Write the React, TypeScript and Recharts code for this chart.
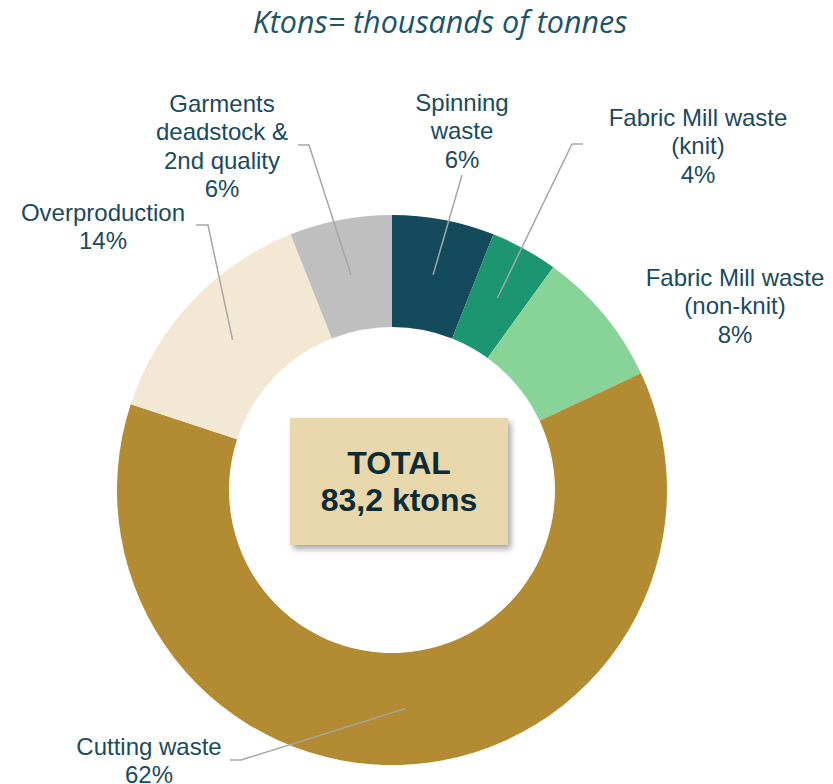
import React from 'react';
import { PieChart, Pie, Cell } from 'recharts';

// waste streams, clockwise from 12 o'clock
const categories = [
  ['Spinning', 'waste'],
  ['Fabric Mill waste', '(knit)'],
  ['Fabric Mill waste', '(non-knit)'],
  ['Cutting waste'],
  ['Overproduction'],
  ['Garments', 'deadstock &', '2nd quality'],
];
const ktons = [5.0, 3.3, 6.7, 51.6, 11.6, 5.0];
const colors = ['#134a5c', '#1b9670', '#88d398', '#b38b32', '#f3e8d3', '#bfbfbf'];

const data = categories.map((lines, i) => ({ name: lines.join(' '), lines, value: ktons[i] }));
const total = ktons.reduce((a, b) => a + b, 0);

const W = 833;
const H = 784;
const CX = 392;
const CY = 490;
const INNER = 163;
const OUTER = 275;
const LINE_H = 28.5;
const TEXT = '#1a4a5c';
const RADIAN = Math.PI / 180;

// label placement, relative to the pie centre: text centre x, first line y,
// and the leader line end (with an optional short horizontal stub)
const labelLayout = [
  { x: 70, y: -388, leader: [[70, -315]] },
  { x: 306, y: -373, leader: [[180, -346], [191, -346]] },
  { x: 343, y: -213, leader: null },
  { x: -243, y: 256, leader: [[-151, 270], [-162, 270]] },
  { x: -289, y: -278, leader: [[-184, -265], [-196, -265]] },
  { x: -170, y: -387, leader: [[-83, -345], [-94, -345]] },
];

function renderLabel(props: any) {
  const { cx, cy, midAngle, innerRadius, outerRadius, index, percent } = props;
  const lay = labelLayout[index];
  const r = (innerRadius + outerRadius) / 2;
  const sx = cx + r * Math.cos(-midAngle * RADIAN);
  const sy = cy + r * Math.sin(-midAngle * RADIAN);
  const lines = [...data[index].lines, `${Math.round(percent * 100)}%`];
  const pts = lay.leader ? [[sx, sy], ...lay.leader.map(([dx, dy]) => [cx + dx, cy + dy])] : null;
  return (
    <g key={`lbl-${index}`}>
      {pts && (
        <polyline
          points={pts.map((p) => p.join(',')).join(' ')}
          fill="none"
          stroke="#a6a6a6"
          strokeWidth={1.5}
        />
      )}
      <text
        x={cx + lay.x}
        y={cy + lay.y}
        textAnchor="middle"
        fill={TEXT}
        fontFamily="'Liberation Sans', Arial, sans-serif"
        fontSize={24}
      >
        {lines.map((t, i) => (
          <tspan key={i} x={cx + lay.x} y={cy + lay.y + i * LINE_H} dominantBaseline="central">
            {t}
          </tspan>
        ))}
      </text>
    </g>
  );
}

export default function App() {
  return (
    <div style={{ position: 'relative', width: W, height: H, background: '#fff' }}>
      <style>{'body{margin:0}'}</style>
      <div
        style={{
          position: 'absolute',
          top: 0,
          left: 440 - 300,
          width: 600,
          textAlign: 'center',
          fontFamily: "'Open Sans', sans-serif",
          fontStyle: 'italic',
          fontSize: 30.5,
          color: '#1d5466',
        }}
      >
        Ktons= thousands of tonnes
      </div>
      <PieChart
        width={W}
        height={H}
        margin={{ top: 0, right: 0, bottom: 0, left: 0 }}
        style={{ position: 'absolute', top: 0, left: 0 }}
      >
        <Pie
          data={data}
          dataKey="value"
          cx={CX}
          cy={CY}
          innerRadius={INNER}
          outerRadius={OUTER}
          startAngle={90}
          endAngle={-270}
          stroke="none"
          label={renderLabel}
          labelLine={false}
          isAnimationActive={false}
        >
          {data.map((d, i) => (
            <Cell key={d.name + i} fill={colors[i]} />
          ))}
        </Pie>
      </PieChart>
      <div
        style={{
          position: 'absolute',
          left: CX - 102,
          top: CY - 72,
          width: 218,
          height: 127,
          background: '#e8d7aa',
          boxShadow: '3px 4px 6px rgba(0,0,0,0.35)',
          display: 'flex',
          flexDirection: 'column',
          justifyContent: 'center',
          alignItems: 'center',
          fontFamily: "'Liberation Sans', Arial, sans-serif",
          fontWeight: 'bold',
          fontSize: 32,
          lineHeight: '37px',
          color: '#0d2b36',
        }}
      >
        <div>TOTAL</div>
        <div>{total.toFixed(1).replace('.', ',')} ktons</div>
      </div>
    </div>
  );
}
